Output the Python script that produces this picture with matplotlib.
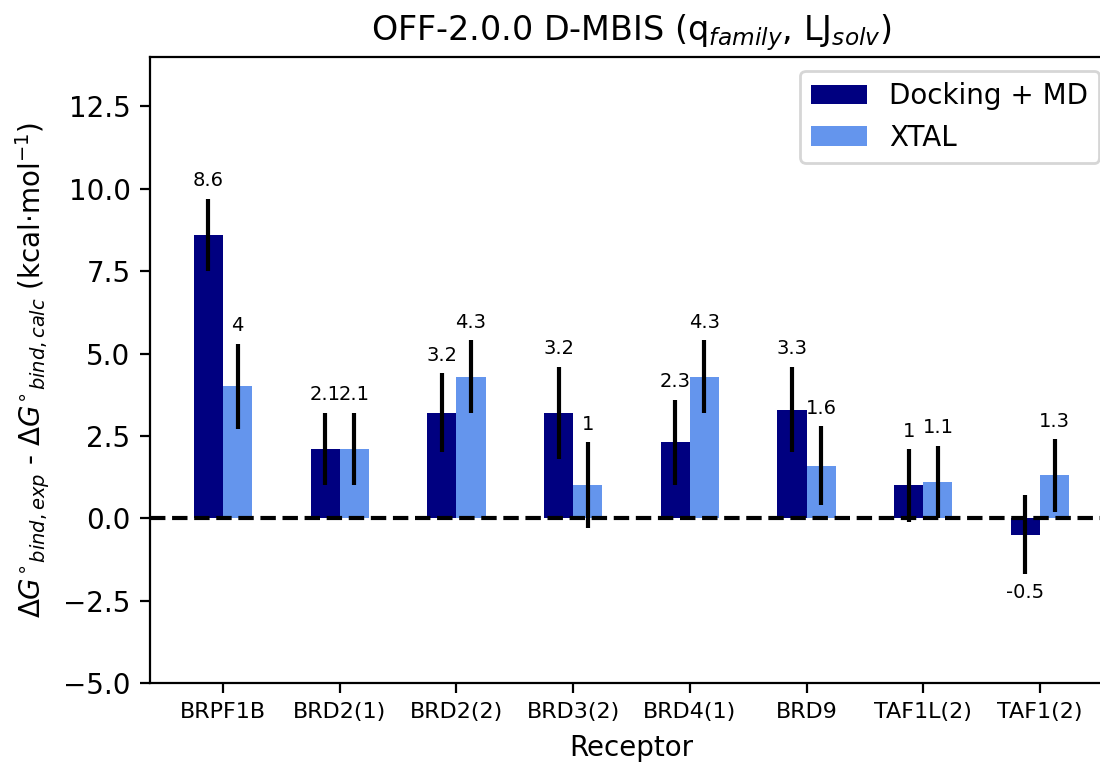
import numpy as np
import matplotlib
matplotlib.use('Agg')
import matplotlib.pyplot as plt

# Receptors and per-receptor errors (kcal/mol)
receptors = ['BRPF1B', 'BRD2(1)', 'BRD2(2)', 'BRD3(2)', 'BRD4(1)', 'BRD9', 'TAF1L(2)', 'TAF1(2)']
docking_md = [8.6, 2.1, 3.2, 3.2, 2.3, 3.3, 1.0, -0.5]
docking_md_err = [1.1, 1.1, 1.2, 1.4, 1.3, 1.3, 1.1, 1.2]
xtal = [4.0, 2.1, 4.3, 1.0, 4.3, 1.6, 1.1, 1.3]
xtal_err = [1.3, 1.1, 1.1, 1.3, 1.1, 1.2, 1.1, 1.1]

x = np.arange(len(receptors))
width = 0.25

fig = plt.figure(figsize=(5.5, 3.81), dpi=200)
# axes runs slightly past the right edge, as in the original (cropped) figure
ax = fig.add_axes([150 / 1100, 1 - 683 / 762, (1113 - 150) / 1100, (683 - 57) / 762])

err_kw = dict(ecolor='black', elinewidth=1.5, capsize=0)
b1 = ax.bar(x - width / 2, docking_md, width, yerr=docking_md_err, color='navy',
            label='Docking + MD', error_kw=err_kw)
b2 = ax.bar(x + width / 2, xtal, width, yerr=xtal_err, color='cornflowerblue',
            label='XTAL', error_kw=err_kw)

ax.bar_label(b1, padding=3, fontsize=7)
ax.bar_label(b2, padding=3, fontsize=7)

ax.axhline(0, color='black', linestyle='--', linewidth=1.5, zorder=3)

ax.set_ylim(-5, 14)
ax.set_xticks(x)
ax.set_xticklabels(receptors, fontsize=8)
ax.set_xlabel('Receptor')
ax.set_ylabel(r'$\Delta G^{\circ}{}_{bind,exp}$ - $\Delta G^{\circ}{}_{bind,calc}$ (kcal$\cdot$mol$^{-1}$)')
ax.set_title(r'OFF-2.0.0 D-MBIS (q$_{family}$, LJ$_{solv}$)')
ax.legend(loc='upper right')

plt.savefig('out.png', dpi=200)
